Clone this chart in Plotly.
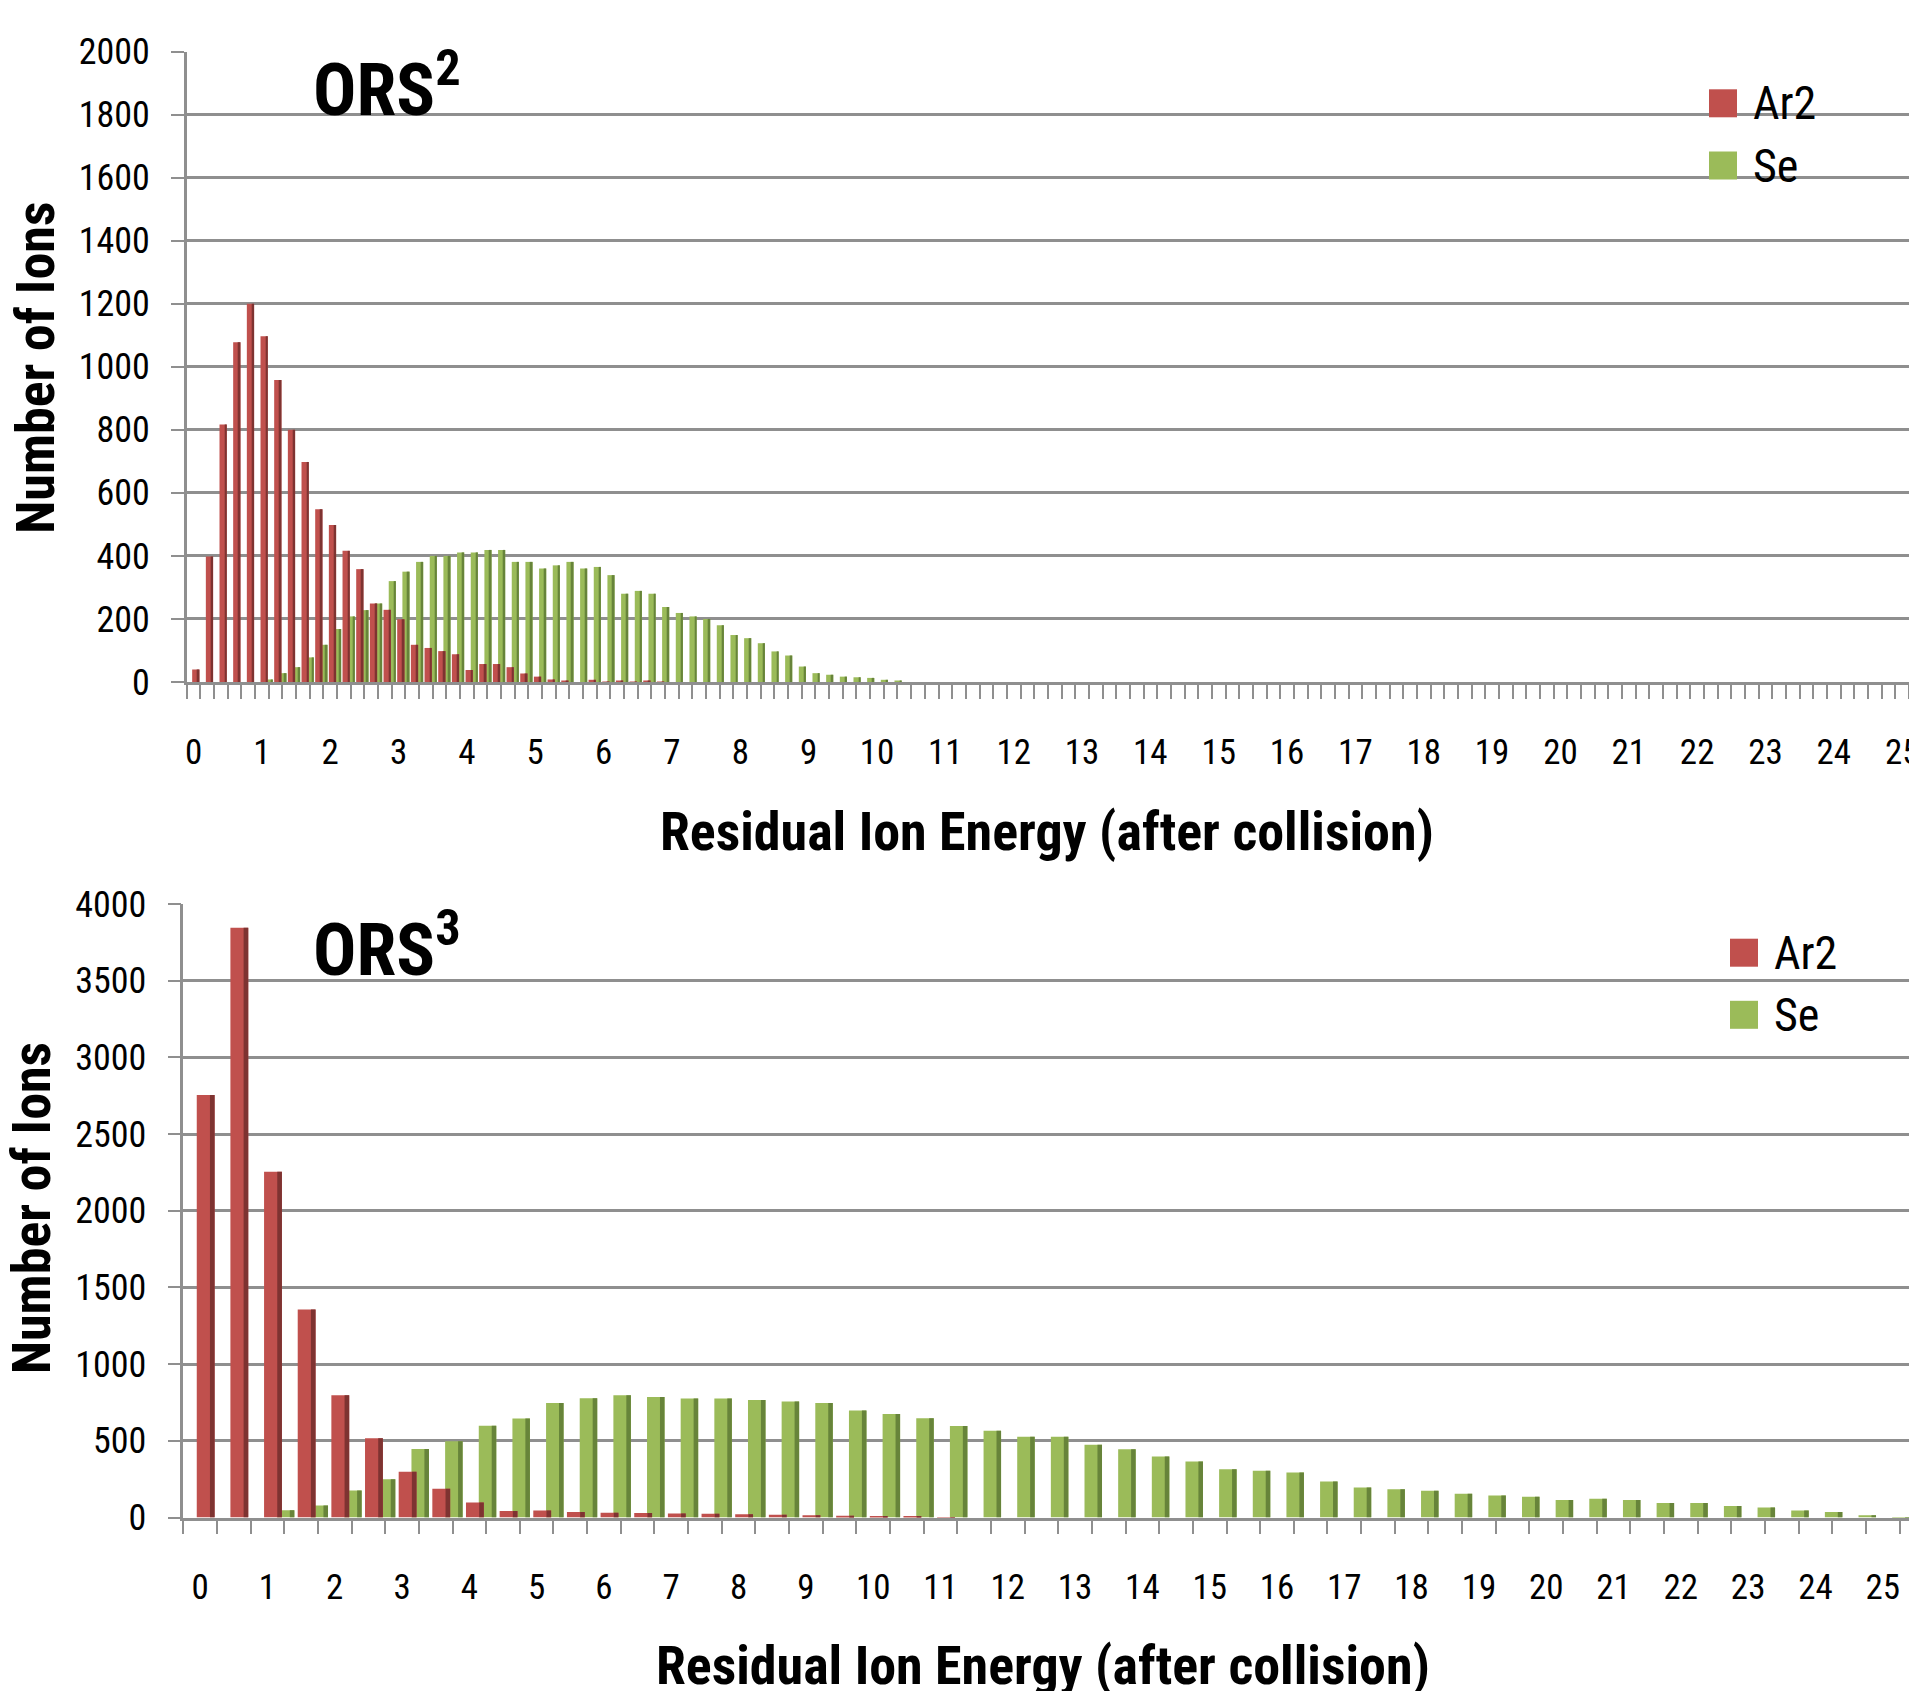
import plotly.graph_objects as go

# ---------------------------------------------------------------------------
# Residual ion energy histograms (ion counts per energy bin)
# ---------------------------------------------------------------------------
ors2_bin_width = 0.2
ors3_bin_width = 0.5
ors2_energy = [round(ors2_bin_width * i, 1) for i in range(126)]   # 0 .. 25 eV
ors3_energy = [round(ors3_bin_width * i, 1) for i in range(51)]    # 0 .. 25 eV

ors2_ar2 = [
    40, 398, 817, 1078, 1200, 1097, 958, 800, 698, 548,
    498, 416, 358, 249, 229, 199, 118, 108, 98, 88,
    38, 57, 57, 47, 27, 17, 8, 2, 0, 7,
    1, 2, 1, 2, 1, 0, 0, 0, 0, 0,
    0, 0, 0, 0, 0, 0, 0, 0, 0, 0,
    0, 0, 0, 0, 0, 0, 0, 0, 0, 0,
    0, 0, 0, 0, 0, 0, 0, 0, 0, 0,
    0, 0, 0, 0, 0, 0, 0, 0, 0, 0,
    0, 0, 0, 0, 0, 0, 0, 0, 0, 0,
    0, 0, 0, 0, 0, 0, 0, 0, 0, 0,
    0, 0, 0, 0, 0, 0, 0, 0, 0, 0,
    0, 0, 0, 0, 0, 0, 0, 0, 0, 0,
    0, 0, 0, 0, 0, 0,
]
ors2_se = [
    0, 0, 0, 0, 0, 8, 28, 47, 78, 118,
    168, 208, 228, 249, 320, 350, 381, 400, 400, 411,
    411, 419, 419, 381, 381, 360, 370, 381, 360, 365,
    339, 280, 289, 280, 238, 219, 208, 200, 180, 149,
    139, 123, 97, 84, 49, 28, 23, 17, 15, 13,
    7, 2, 0, 0, 0, 0, 0, 0, 0, 0,
    0, 0, 0, 0, 0, 0, 0, 0, 0, 0,
    0, 0, 0, 0, 0, 0, 0, 0, 0, 0,
    0, 0, 0, 0, 0, 0, 0, 0, 0, 0,
    0, 0, 0, 0, 0, 0, 0, 0, 0, 0,
    0, 0, 0, 0, 0, 0, 0, 0, 0, 0,
    0, 0, 0, 0, 0, 0, 0, 0, 0, 0,
    0, 0, 0, 0, 0, 0,
]

ors3_ar2 = [
    2755, 3845, 2255, 1356, 797, 517, 299, 187, 98, 42,
    45, 36, 31, 29, 26, 24, 22, 18, 15, 11,
    8, 4, 1, 0, 0, 0, 0, 0, 0, 0,
    0, 0, 0, 0, 0, 0, 0, 0, 0, 0,
    0, 0, 0, 0, 0, 0, 0, 0, 0, 0,
    0,
]
ors3_se = [
    0, 0, 48, 78, 176, 249, 447, 497, 598, 646,
    746, 777, 797, 785, 776, 776, 766, 757, 746, 697,
    675, 647, 596, 566, 527, 527, 475, 445, 398, 365,
    315, 305, 294, 235, 196, 185, 175, 155, 144, 136,
    114, 123, 114, 95, 95, 75, 65, 45, 36, 15,
    3,
]

series_names = ["Ar2", "Se"]
tick_values = list(range(26))
tick_text = [str(v) for v in tick_values]

# ---------------------------------------------------------------------------
# Styling
# ---------------------------------------------------------------------------
FIG_W, FIG_H = 1909, 1691
CONDENSED = "Roboto Condensed, Open Sans Condensed, Roboto, sans-serif"
GRID = "#8f8f8f"
RED, RED_SIDE = "#c0504d", "#7e3331"
GREEN, GREEN_SIDE = "#9bbb59", "#67843a"


def px_x(x):
    return x / FIG_W


def px_y(y):
    return 1 - y / FIG_H


fig = go.Figure()


def add_columns(energy, values, bin_w, color, side_color, name, xa, ya, start, span):
    """Column with a darker right-hand side face, as in a bevelled bar."""
    face_off = start * bin_w
    face_w = span * bin_w
    fig.add_trace(go.Bar(
        x=energy, y=values, name=name, xaxis=xa, yaxis=ya,
        offset=face_off, width=face_w,
        marker=dict(color=color, line=dict(width=0)),
        showlegend=False, hoverinfo="x+y+name",
    ))
    fig.add_trace(go.Bar(
        x=energy, y=values, name=name, xaxis=xa, yaxis=ya,
        offset=face_off + 0.74 * face_w, width=0.26 * face_w,
        marker=dict(color=side_color, line=dict(width=0)),
        showlegend=False, hoverinfo="skip",
    ))


# Se first so that the Ar2 columns sit in front
add_columns(ors2_energy, ors2_se, ors2_bin_width, GREEN, GREEN_SIDE, "Se", "x", "y", 0.28, 0.52)
add_columns(ors2_energy, ors2_ar2, ors2_bin_width, RED, RED_SIDE, "Ar2", "x", "y", -0.10, 0.53)
add_columns(ors3_energy, ors3_se, ors3_bin_width, GREEN, GREEN_SIDE, "Se", "x2", "y2", 0.28, 0.52)
add_columns(ors3_energy, ors3_ar2, ors3_bin_width, RED, RED_SIDE, "Ar2", "x2", "y2", -0.10, 0.53)


def x_axis(domain_left, rng, bin_w, anchor):
    return dict(
        domain=[domain_left, 1.0], range=rng, anchor=anchor,
        tickmode="array", tickvals=tick_values, ticktext=tick_text,
        ticks="", showgrid=False, zeroline=False,
        showline=True, linecolor=GRID, linewidth=2.5,
        tickfont=dict(family=CONDENSED, size=35, color="black"),
        ticklabelstandoff=37, ticklabeloverflow="allow",
        minor=dict(ticks="outside", tick0=-bin_w / 2, dtick=bin_w,
                   ticklen=14, tickwidth=2, tickcolor=GRID, showgrid=False),
        automargin=False, fixedrange=True,
    )


def y_axis(domain, rng, dtick, anchor):
    return dict(
        domain=domain, range=rng, anchor=anchor,
        tickmode="linear", tick0=0, dtick=dtick,
        ticks="outside", ticklen=13, tickwidth=2, tickcolor=GRID,
        showgrid=True, gridcolor=GRID, gridwidth=2.5, zeroline=False,
        showline=True, linecolor=GRID, linewidth=2.5,
        tickfont=dict(family=CONDENSED, size=36, color="black"),
        ticklabelstandoff=14, automargin=False, fixedrange=True,
    )


fig.update_layout(
    width=FIG_W, height=FIG_H,
    margin=dict(l=0, r=0, t=0, b=0),
    paper_bgcolor="white", plot_bgcolor="white",
    barmode="overlay", showlegend=False,
    xaxis=x_axis(px_x(186.7), [-ors2_bin_width / 2, 25.1], ors2_bin_width, "y"),
    yaxis=y_axis([px_y(682), px_y(51.5)], [0, 2000], 200, "x"),
    xaxis2=x_axis(px_x(183.3), [-ors3_bin_width / 2, 25.39], ors3_bin_width, "y2"),
    yaxis2=y_axis([px_y(1517.5), px_y(904)], [0, 4000], 500, "x2"),
)

# Axis titles
title_font = dict(family=CONDENSED, size=54, color="black", weight="bold")
for xc, yc in [(1047, 831.6), (1043, 1665.5)]:
    fig.add_annotation(text="Residual Ion Energy (after collision)",
                       x=px_x(xc), y=px_y(yc), xref="paper", yref="paper",
                       xanchor="center", yanchor="middle", showarrow=False,
                       font=title_font)
for xc, yc in [(36, 367.7), (31, 1208)]:
    fig.add_annotation(text="Number of Ions", textangle=-90,
                       x=px_x(xc), y=px_y(yc), xref="paper", yref="paper",
                       xanchor="center", yanchor="middle", showarrow=False,
                       font=title_font)

# Panel labels
ors_font = dict(family=CONDENSED, size=72, color="black", weight="bold")
for label, xl, yc in [("ORS<sup>2</sup>", 311, 86), ("ORS<sup>3</sup>", 311, 946)]:
    fig.add_annotation(text=label, x=px_x(xl), y=px_y(yc),
                       xref="paper", yref="paper", xanchor="left", yanchor="middle",
                       showarrow=False, font=ors_font)

# Legends (one per panel)
legend_font = dict(family=CONDENSED, size=46, color="black")
legend_colors = [RED, GREEN]
for sq_left, text_left, rows in [(1709, 1751, [103.3, 165.5]), (1730, 1772, [952.7, 1014.8])]:
    for name, color, yc in zip(series_names, legend_colors, rows):
        fig.add_shape(type="rect", xref="paper", yref="paper",
                      x0=px_x(sq_left), x1=px_x(sq_left + 28),
                      y0=px_y(yc - 14), y1=px_y(yc + 14),
                      fillcolor=color, line=dict(width=0))
        fig.add_annotation(text=name, x=px_x(text_left), y=px_y(yc),
                           xref="paper", yref="paper", xanchor="left", yanchor="middle",
                           showarrow=False, font=legend_font)

fig.write_html("out.html")
